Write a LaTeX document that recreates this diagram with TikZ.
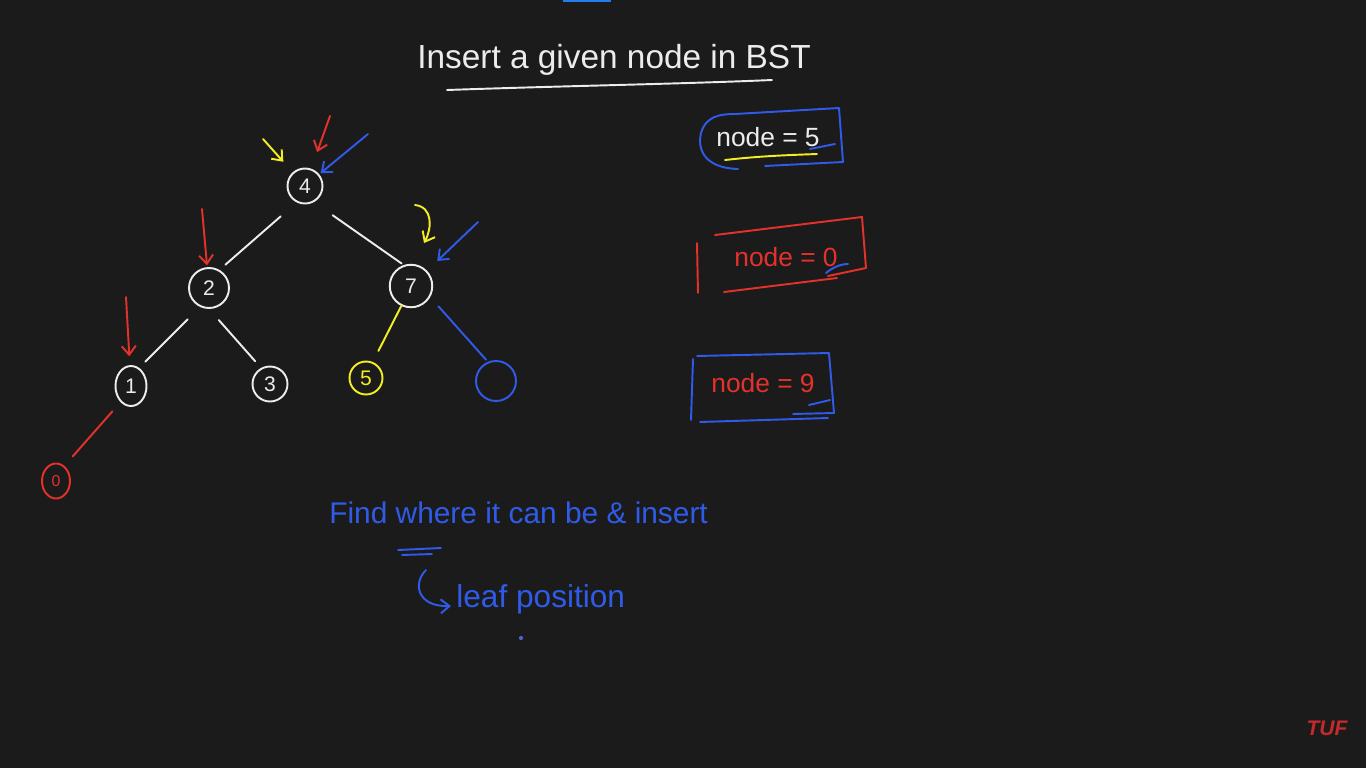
\documentclass[tikz,border=0pt]{standalone}
\usepackage{fontspec}
\setmainfont{Liberation Sans}
\usetikzlibrary{arrows.meta,shapes.geometric}
\definecolor{bg}{HTML}{1C1B1B}
\definecolor{chalk}{HTML}{ECECEC}
\definecolor{pblue}{HTML}{2F5BE8}
\definecolor{pred}{HTML}{E3322B}
\definecolor{pyel}{HTML}{F2EE22}
\definecolor{tuf}{HTML}{C42A2C}
\tikzset{
  pen/.style={line width=1.1pt, line cap=round, line join=round},
  tnode/.style={circle, draw, pen, minimum size=0.7cm, inner sep=0pt, font=\fontsize{12}{12}\selectfont},
  parrow/.style={pen, -{Straight Barb[length=5pt,width=8pt]}},
  boxtext/.style={font=\fontsize{15}{16}\selectfont, inner sep=0pt},
  bluetext/.style={text=pblue, inner sep=0pt, anchor=west},
}
\begin{document}
\begin{tikzpicture}[x=0.02cm,y=-0.02cm]
\fill[bg] (0,0) rectangle (1366,768);
\useasboundingbox (0,0) rectangle (1366,768);
\fill[pblue!80!cyan] (563,0) rectangle (611,2);

% title
\node[text=chalk, font=\fontsize{19}{20}\selectfont, inner sep=0pt] (title) at (614,60) {Insert a given node in BST};
\draw[pen, chalk] (447,90) .. controls (560,86) and (680,84) .. (772,80);

% tree
\node[tnode, draw=chalk, text=chalk] (n4) at (305,186) {4};
\node[tnode, draw=chalk, text=chalk, minimum size=0.8cm] (n2) at (209,288) {2};
\node[tnode, draw=chalk, text=chalk, minimum size=0.85cm] (n7) at (411,286) {7};
\node[tnode, ellipse, draw=chalk, text=chalk, minimum width=0.62cm, minimum height=0.8cm] (n1) at (131,386) {1};
\node[tnode, draw=chalk, text=chalk] (n3) at (270,384) {3};
\node[tnode, draw=pyel, text=pyel, minimum size=0.66cm] (n5) at (366,378) {5};
\node[tnode, draw=pblue, minimum size=0.8cm] (nb) at (496,381) {};
\node[tnode, ellipse, draw=pred, text=pred, minimum width=0.56cm, minimum height=0.7cm, font=\fontsize{9}{9}\selectfont] (n0) at (56,481) {0};

\draw[pen, chalk, shorten <=12pt, shorten >=4.5pt] (n4.243) -- (n2.60);
\draw[pen, chalk, shorten <=13pt, shorten >=1.5pt] (n4.299) -- (n7.109);
\draw[pen, chalk, shorten <=10pt, shorten >=5pt] (n2.245) -- (n1.66);
\draw[pen, chalk, shorten <=8.5pt, shorten >=5pt] (n2.270) -- (n3.119);
\draw[pen, pyel, shorten >=7pt] (n7.244) -- (n5.67);
\draw[pen, pblue, shorten <=7pt, shorten >=1.5pt] (n7.330) -- (nb.113);
\draw[pen, pred, shorten <=7pt, shorten >=7pt] (n1.237) -- (n0.61);

% pointer arrows
\coordinate (y4) at (263,139);
\coordinate (r4) at (330,116);
\coordinate (b4) at (368,134);
\coordinate (r2) at (202,209);
\coordinate (y7) at (415,205);
\coordinate (b7) at (478,222);
\coordinate (r1) at (126,297);
\draw[parrow, pyel, shorten >=8pt] (y4) -- (n4);
\draw[parrow, pred, shorten >=10pt] (r4) -- (n4);
\draw[parrow, pblue, shorten >=1pt] (b4) -- (n4);
\draw[parrow, pred, shorten >=1pt] (r2) -- (n2);
\draw[parrow, pyel] (y7) .. controls (433,207) and (432,228) .. (424,243);
\draw[parrow, pblue, shorten >=8pt] (b7) -- (n7);
\draw[parrow, pred, shorten >=5pt] (r1) -- (n1);

% box 1
\node[boxtext, text=chalk] (t1) at (768,137) {node = 5};
\draw[pen, pblue] (738,169) .. controls (705,168) and (697,150) .. (701,133)
   .. controls (706,116) and (720,114) .. (735,114) -- (839,108) -- (843,162) -- (765,166);
\draw[pen, pyel] (725,160) .. controls (760,156) and (790,155) .. (817,154);
\draw[pen, pblue] (810,149) -- (835,144);

% box 2
\node[boxtext, text=pred] (t2) at (786,257) {node = 0};
\draw[pen, pred] (715,235) -- (862,217) -- (866,268) -- (828,276);
\draw[pen, pred] (697,243) -- (698,293);
\draw[pen, pred] (724,292) -- (837,278);
\draw[pen, pblue] (826,273) .. controls (832,268) and (840,264) .. (848,264);

% box 3
\node[boxtext, text=pred] (t3) at (763,383) {node = 9};
\draw[pen, pblue] (793,414) -- (834,413) -- (829,353) -- (697,356);
\draw[pen, pblue] (693,359) -- (691,420);
\draw[pen, pblue] (700,422) -- (828,418);
\draw[pen, pblue] (809,405) -- (830,400);

% notes
\node[bluetext, font=\fontsize{17}{18}\selectfont] (f1) at (329,513) {Find where it can be \& insert};
\draw[pen, pblue] (398,550) -- (441,548);
\draw[pen, pblue] (402,555) -- (432,554);
\coordinate (h1) at (426,570);
\coordinate (h2) at (451,606);
\draw[parrow, pblue] (h1) .. controls (412,584) and (418,607) .. (h2);
\node[bluetext, font=\fontsize{18}{19}\selectfont] (f2) at (456,599) {leaf position};
\fill[pblue!70!gray] (521,638) circle (1.2pt);

% logo
\node[text=tuf, font=\fontsize{12}{12}\bfseries\itshape\selectfont, inner sep=0pt] (logo) at (1327,728) {TUF};
\end{tikzpicture}
\end{document}
